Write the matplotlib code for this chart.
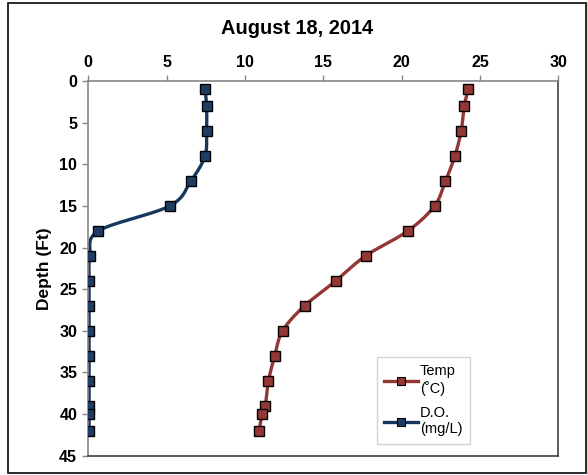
import numpy as np
import matplotlib
matplotlib.use("Agg")
import matplotlib.pyplot as plt
from matplotlib.patches import Rectangle

# Water-column profile, August 18, 2014
depth_ft = [1, 3, 6, 9, 12, 15, 18, 21, 24, 27, 30, 33, 36, 39, 40, 42]
temp_c = [24.25, 24.0, 23.8, 23.4, 22.8, 22.1, 20.4, 17.7, 15.8, 13.8,
          12.4, 11.9, 11.5, 11.3, 11.1, 10.9]
do_mgl = [7.45, 7.55, 7.55, 7.45, 6.55, 5.2, 0.65, 0.1, 0.05, 0.05,
          0.05, 0.05, 0.05, 0.05, 0.05, 0.05]
x_ticks = [0, 5, 10, 15, 20, 25, 30]
y_ticks = [0, 5, 10, 15, 20, 25, 30, 35, 40, 45]

TEMP_LINE = "#943634"
TEMP_FILL = "#953735"
DO_LINE = "#17375E"
DO_FILL = "#1F3D64"


def smooth_curve(xs, ys, n=30):
    """Cubic Bezier smoothing through every point (spreadsheet-style)."""
    p = np.column_stack([xs, ys]).astype(float)
    m = len(p)
    out = [p[0]]
    for i in range(m - 1):
        p0 = p[i - 1] if i > 0 else p[i]
        p1, p2 = p[i], p[i + 1]
        p3 = p[i + 2] if i + 2 < m else p[i + 1]
        c1 = p1 + (p2 - p0) / 6.0
        c2 = p2 - (p3 - p1) / 6.0
        t = np.linspace(0, 1, n)[1:, None]
        seg = ((1 - t) ** 3) * p1 + 3 * ((1 - t) ** 2) * t * c1 \
            + 3 * (1 - t) * t ** 2 * c2 + t ** 3 * p2
        out.extend(seg)
    out = np.array(out)
    return out[:, 0], out[:, 1]


plt.rcParams["font.family"] = ["Liberation Sans", "DejaVu Sans"]

fig = plt.figure(figsize=(5.87, 4.75), dpi=100)
fig.patches.append(Rectangle((8 / 587, 2 / 475), 578 / 587, 470 / 475,
                             transform=fig.transFigure, fill=False,
                             edgecolor="#1a1a1a", linewidth=1.3))

ax = fig.add_axes([88.3 / 587, 1 - 455.7 / 475, 470 / 587, 374.7 / 475])

for xs, color, fill, label in [(temp_c, TEMP_LINE, TEMP_FILL, "Temp\n(\u02daC)"),
                               (do_mgl, DO_LINE, DO_FILL, "D.O.\n(mg/L)")]:
    sx, sy = smooth_curve(xs, depth_ft)
    ax.plot(sx, sy, color=color, lw=2.4, solid_capstyle="round", zorder=2)
    ax.plot(xs, depth_ft, ls="none", marker="s", markersize=6.5,
            markerfacecolor=fill, markeredgecolor="black",
            markeredgewidth=1.0, zorder=3)
    ax.plot([], [], color=color, lw=2.4, marker="s", markersize=6.0,
            markerfacecolor=fill, markeredgecolor="black",
            markeredgewidth=0.8, label=label)

ax.set_xlim(0, 30)
ax.set_ylim(45, 0)
ax.set_xticks(x_ticks)
ax.set_yticks(y_ticks)
ax.xaxis.tick_top()
ax.tick_params(axis="both", direction="out", length=4, width=1,
               color="#868686", labelsize=11.5)
ax.tick_params(axis="x", pad=4)
ax.tick_params(axis="y", pad=4)
for lab in ax.get_xticklabels() + ax.get_yticklabels():
    lab.set_fontweight("bold")

for side in ("top", "left"):
    ax.spines[side].set_color("#868686")
    ax.spines[side].set_linewidth(1.2)
for side in ("right", "bottom"):
    ax.spines[side].set_color("#404040")
    ax.spines[side].set_linewidth(1.2)

ax.set_ylabel("Depth (Ft)", fontsize=12.5, fontweight="bold", labelpad=5)

fig.text(0.506, 1 - 28 / 475, "August 18, 2014", ha="center", va="center",
         fontsize=14.4, fontweight="bold")

leg = ax.legend(loc="upper left", bbox_to_anchor=(0.614, 0.263),
                fontsize=10.5, frameon=True, fancybox=False,
                edgecolor="#c8c8c8", handlelength=2.3, handletextpad=0.15,
                labelspacing=0.7, borderpad=0.5, borderaxespad=0)
leg.get_frame().set_linewidth(1.0)

fig.savefig("out.png", dpi=100)
